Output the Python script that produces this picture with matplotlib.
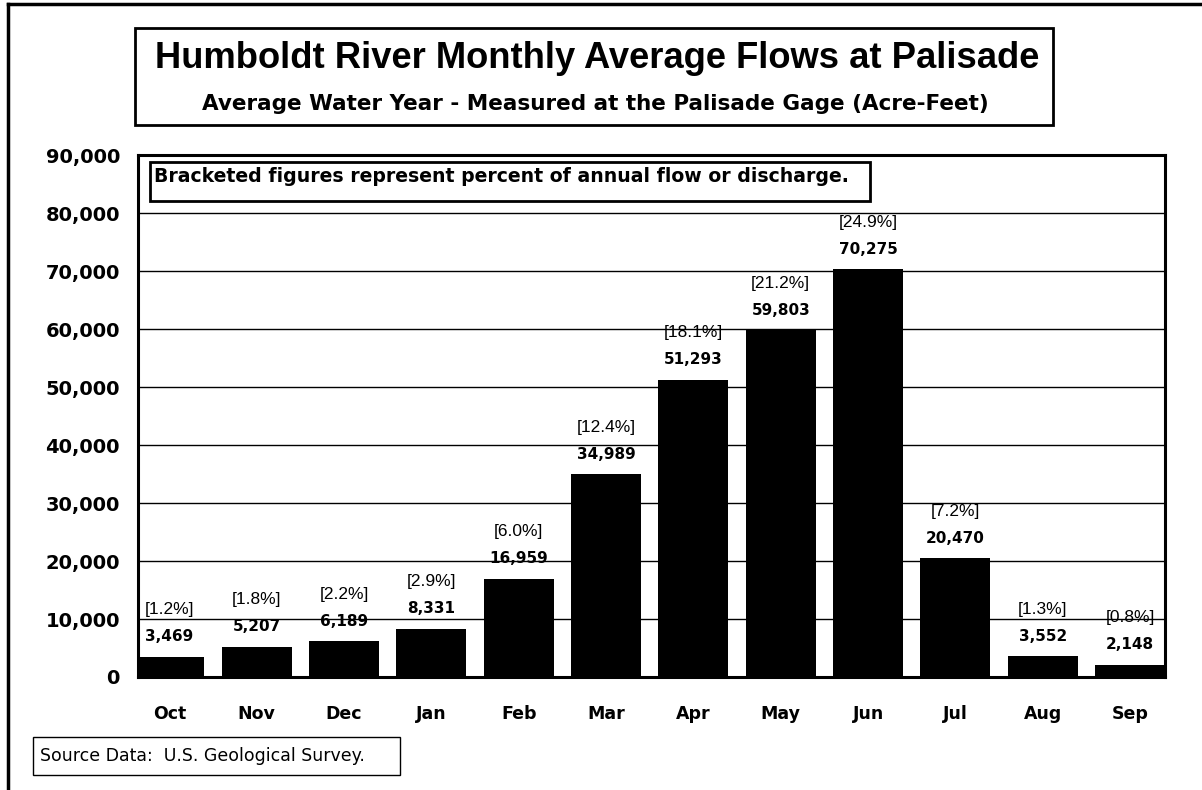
import matplotlib
matplotlib.use("Agg")
import matplotlib.pyplot as plt
from matplotlib.patches import Rectangle
from matplotlib.lines import Line2D

months = ["Oct", "Nov", "Dec", "Jan", "Feb", "Mar", "Apr", "May", "Jun", "Jul", "Aug", "Sep"]
flows = [3469, 5207, 6189, 8331, 16959, 34989, 51293, 59803, 70275, 20470, 3552, 2148]
percents = ["1.2", "1.8", "2.2", "2.9", "6.0", "12.4", "18.1", "21.2", "24.9", "7.2", "1.3", "0.8"]
yticks = [0, 10000, 20000, 30000, 40000, 50000, 60000, 70000, 80000, 90000]

plt.rcParams['font.family'] = ['Liberation Sans', 'DejaVu Sans']
WIDE = ['DejaVu Sans']

W, H = 1202, 790
fig = plt.figure(figsize=(W / 100, H / 100), dpi=100)

def fx(px):
    return px / W

def fy(py):
    return 1 - py / H

# outer frame (left and top edges)
fig.add_artist(Line2D([fx(8), fx(8)], [fy(4), fy(790)], color='black', lw=2.5, transform=fig.transFigure))
fig.add_artist(Line2D([fx(8), fx(1202)], [fy(4), fy(4)], color='black', lw=2.5, transform=fig.transFigure))

# title box
fig.add_artist(Rectangle((fx(135), fy(125)), fx(1053 - 135), (125 - 28) / H, fill=False,
                         ec='black', lw=2, transform=fig.transFigure))
fig.text(fx(597), fy(58), "Humboldt River Monthly Average Flows at Palisade", ha='center', va='center',
         fontsize=26.2, fontweight='bold')
fig.text(fx(595), fy(104), "Average Water Year - Measured at the Palisade Gage (Acre-Feet)", ha='center',
         va='center', fontsize=15.5, fontweight='bold', family=WIDE)

ax = fig.add_axes([fx(138), fy(677), fx(1165 - 138), (677 - 155) / H])
x = list(range(len(months)))
ax.bar(x, flows, width=0.8, color='black', zorder=2)
ax.set_xlim(-0.36, 11.4)
ax.set_ylim(0, 90000)
ax.set_yticks(yticks)
ax.set_yticklabels([f"{v:,}" for v in yticks], fontweight='bold', fontsize=14, family=WIDE)
ax.set_xticks(x)
ax.set_xticklabels(months, fontweight='bold', fontsize=12.5, family=WIDE)
ax.tick_params(axis='both', length=0)
ax.tick_params(axis='y', pad=13)
ax.tick_params(axis='x', pad=20)
for s in ax.spines.values():
    s.set_linewidth(2.2)
for v in yticks[1:-1]:
    ax.axhline(v, color='black', lw=1, zorder=4)

for xi, v, p in zip(x, flows, percents):
    ax.annotate(f"{v:,}", (xi, v), xytext=(0, 20), textcoords='offset pixels', ha='center', va='center',
                fontsize=11, fontweight='bold', family=WIDE, zorder=3)
    ax.annotate(f"[{p}%]", (xi, v), xytext=(0, 47), textcoords='offset pixels', ha='center', va='center',
                fontsize=12.5, zorder=3)

# note box
fig.add_artist(Rectangle((fx(150), fy(201)), fx(870 - 150), (201 - 162) / H, fill=True, fc='white',
                         ec='black', lw=2, transform=fig.transFigure, zorder=5))
fig.text(fx(154), fy(177), "Bracketed figures represent percent of annual flow or discharge.", ha='left',
         va='center', fontsize=13.6, fontweight='bold', family=WIDE, zorder=6)

# source box
fig.add_artist(Rectangle((fx(33), fy(775)), fx(400 - 33), (775 - 737) / H, fill=False,
                         ec='black', lw=1, transform=fig.transFigure))
fig.text(fx(40), fy(756), "Source Data:  U.S. Geological Survey.", ha='left', va='center', fontsize=12.5,
         family=WIDE)

fig.savefig("out.png", dpi=100)
